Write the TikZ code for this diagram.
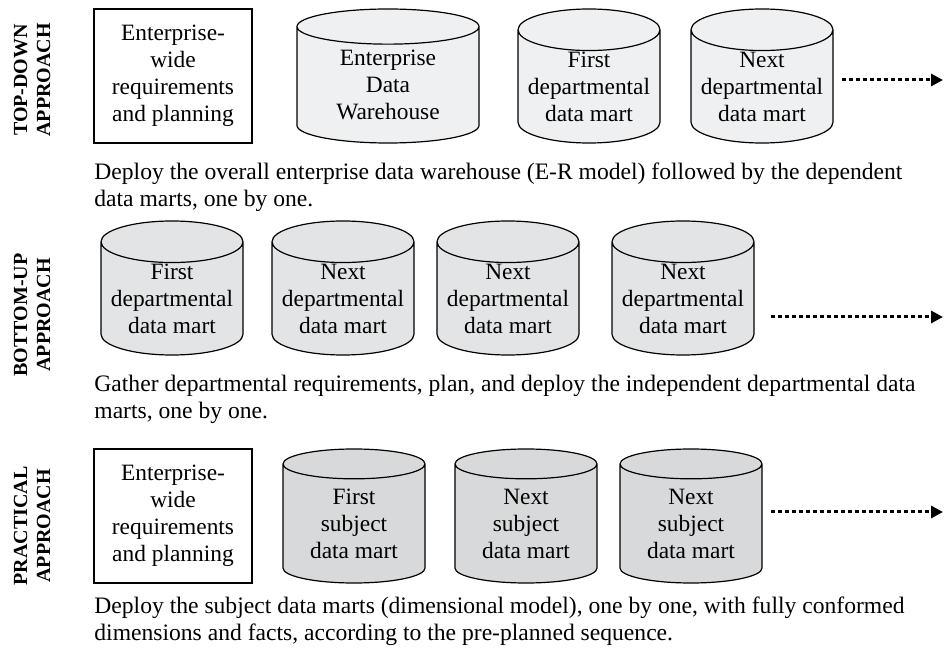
\documentclass[tikz,border=0pt]{standalone}
\usepackage{fontspec}
\setmainfont{Liberation Serif}
\usetikzlibrary{shapes.geometric,arrows.meta}
\definecolor{martone}{HTML}{EFF0F1}
\definecolor{marttwo}{HTML}{E3E4E5}
\definecolor{martthree}{HTML}{D8D9DA}
\tikzset{
  plan/.style={draw,line width=0.6pt,minimum width=79pt,minimum height=67pt,align=center,inner sep=0pt},
  mart/.style={cylinder,shape border rotate=90,draw,line width=0.6pt,aspect=0.34,anchor=shape center,
    minimum width=71pt,minimum height=67pt,align=center,inner sep=0pt},
  approach/.style={rotate=90,font=\fontsize{10}{11.5}\selectfont\bfseries,align=center},
  note/.style={anchor=north west,align=left,inner sep=0pt,font=\fontsize{11.8}{13.5}\selectfont},
  more/.style={line width=1.5pt,dash pattern=on 2pt off 1.5pt,-{Triangle[length=6pt,width=6pt]}}
}
\begin{document}
\begin{tikzpicture}[x=0.5pt,y=-0.5pt,font=\fontsize{11.7}{13.5}\selectfont]
\useasboundingbox (0,0) rectangle (944,652);
% top-down
\node[approach] (tdlabel) at (32,80) {TOP-DOWN\\APPROACH};
\node[plan] (tdplan) at (173,76) {Enterprise-\\wide\\requirements\\and planning};
\node[mart,fill=martone,minimum width=91pt] (tdedw) at (388,76) {Enterprise\\Data\\Warehouse};
\node[mart,fill=martone] (tdfirst) at (589,76) {First\\departmental\\data mart};
\node[mart,fill=martone] (tdnext) at (762,76) {Next\\departmental\\data mart};
\coordinate (tdend) at (943,80);
\draw[more] (tdnext.east |- tdend) ++(8,0) -- (tdend);
\node[note] (tdnote) at (94,162) {Deploy the overall enterprise data warehouse (E-R model) followed by the dependent\\data marts, one by one.};
% bottom-up
\node[approach] (bulabel) at (32,315) {BOTTOM-UP\\APPROACH};
\node[mart,fill=marttwo] (bufirst) at (172,288) {First\\departmental\\data mart};
\node[mart,fill=marttwo] (bunext) at (343,288) {Next\\departmental\\data mart};
\node[mart,fill=marttwo] (bumore) at (508,288) {Next\\departmental\\data mart};
\node[mart,fill=marttwo] (bulast) at (683,288) {Next\\departmental\\data mart};
\coordinate (buend) at (943,317);
\draw[more] (bulast.east |- buend) ++(16,0) -- (buend);
\node[note] (bunote) at (94,375) {Gather departmental requirements, plan, and deploy the independent departmental data\\marts, one by one.};
% practical
\node[approach] (prlabel) at (32,526) {PRACTICAL\\APPROACH};
\node[plan] (prplan) at (173,516) {Enterprise-\\wide\\requirements\\and planning};
\node[mart,fill=martthree] (prfirst) at (354,516) {First\\subject\\data mart};
\node[mart,fill=martthree] (prnext) at (526,516) {Next\\subject\\data mart};
\node[mart,fill=martthree] (prlast) at (691,516) {Next\\subject\\data mart};
\coordinate (prend) at (943,512);
\draw[more] (prlast.east |- prend) ++(8,0) -- (prend);
\node[note] (prnote) at (94,596) {Deploy the subject data marts (dimensional model), one by one, with fully conformed\\dimensions and facts, according to the pre-planned sequence.};
\end{tikzpicture}
\end{document}
